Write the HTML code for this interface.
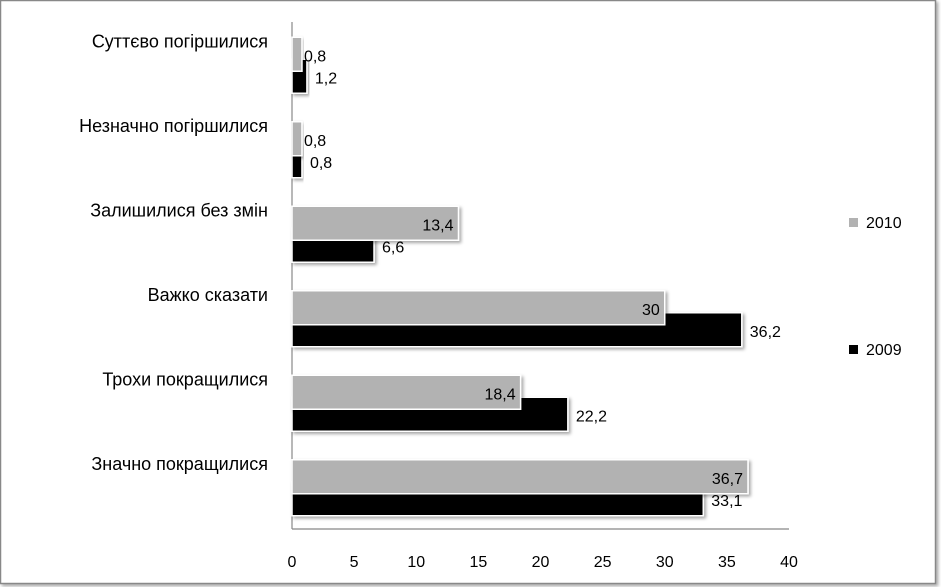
<!DOCTYPE html>
<html><head><meta charset="utf-8"><style>
body{margin:0;background:#fff;}
svg{display:block;font-family:"Liberation Sans",sans-serif;}
</style></head><body>
<svg id="chart" width="941" height="587" xmlns="http://www.w3.org/2000/svg">
<defs><filter id="sh" x="-5%" y="-20%" width="120%" height="160%"><feDropShadow dx="2" dy="2" stdDeviation="1.5" flood-color="#000" flood-opacity="0.35"/></filter></defs>
<rect x="0.5" y="0.5" width="935" height="583" fill="#fff" stroke="#888" stroke-width="1.5" filter="url(#sh)"/>
<g id="plot"></g>
</svg>
<script>
const categories=["Суттєво погіршилися","Незначно погіршилися","Залишилися без змін","Важко сказати","Трохи покращилися","Значно покращилися"];
const values2010=[0.8,0.8,13.4,30,18.4,36.7];
const values2009=[1.2,0.8,6.6,36.2,22.2,33.1];
const labels2010=["0,8","0,8","13,4","30","18,4","36,7"];
const labels2009=["1,2","0,8","6,6","36,2","22,2","33,1"];
const ticks=[0,5,10,15,20,25,30,35,40];
const NS="http://www.w3.org/2000/svg";
const g=document.getElementById('plot');
const X0=292,X1=789,Y0=22,Y1=529,MAX=40;
const x=v=>X0+v/MAX*(X1-X0);
const band=(Y1-Y0)/categories.length;
const yc=i=>Y0+band*(i+0.5);
function mk(t,a,txt){const e=document.createElementNS(NS,t);for(const k in a)e.setAttribute(k,a[k]);if(txt!=null)e.textContent=txt;g.appendChild(e);return e;}
// axes
let ax=mk('line',{x1:X0,y1:Y0,x2:X0,y2:Y1,stroke:'#888','stroke-width':1.2});


let bx=mk('line',{x1:X0,y1:Y1,x2:X1,y2:Y1,stroke:'#888','stroke-width':1.2});


ticks.forEach(t=>{
 const e=mk('text',{x:x(t),y:567,'text-anchor':'middle','font-size':16,fill:'#000'},String(t));
 
 
});
categories.forEach((c,i)=>{
 const cy=yc(i);
 const l=mk('text',{x:268,y:cy-17,'text-anchor':'end','font-size':18,fill:'#000'},c);
 
 
 const b9=mk('rect',{x:X0,y:cy-5,width:x(values2009[i])-X0,height:34,fill:'#000',stroke:'#fff','stroke-width':1.5,filter:'url(#sh)'});
 
 
 const b0=mk('rect',{x:X0,y:cy-27,width:x(values2010[i])-X0,height:34,fill:'#b2b2b2',stroke:'#fff','stroke-width':1.5,filter:'url(#sh)'});
 
 
 const inside=values2010[i]>5;
 const t0=mk('text',{x:inside?x(values2010[i])-5:x(values2010[i])+2,y:cy-3,'text-anchor':inside?'end':'start','font-size':16,fill:'#000'},labels2010[i]);
 
 
 const t9=mk('text',{x:x(values2009[i])+8,y:cy+19,'font-size':16,fill:'#000'},labels2009[i]);
 
 
});
// legend
const lg=[["2010","#b2b2b2",224],["2009","#000",351]];
lg.forEach(d=>{
 const r=mk('rect',{x:849,y:d[2]-6,width:9,height:9,fill:d[1]});
 
 
 const t=mk('text',{x:866,y:d[2]+4,'font-size':16,fill:'#000'},d[0]);
 
 
});
</script>
</body></html>
